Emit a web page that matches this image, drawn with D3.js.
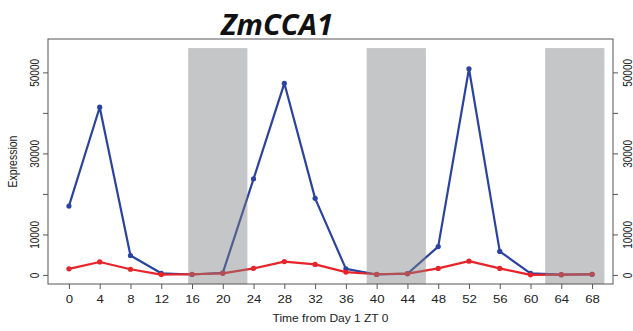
<!DOCTYPE html>
<html>
<head>
<meta charset="utf-8">
<script src="https://cdn.jsdelivr.net/npm/d3@7"></script>
<style>
  html, body { margin: 0; padding: 0; background: #fff; }
  svg { display: block; }
  text { font-family: "Liberation Sans", Arial, sans-serif; fill: #222; }
</style>
</head>
<body>
<svg id="chart" width="633" height="331"></svg>
<script>
// Sampling times (hours from Day 1 ZT 0)
const hours = [0, 4, 8, 12, 16, 20, 24, 28, 32, 36, 40, 44, 48, 52, 56, 60, 64, 68];
// Expression of the two series at each sampling time
const blueSeries = [17000, 41400, 4800, 400, 100, 500, 23700, 47300, 18900, 1500, 100, 300, 7000, 50900, 5800, 400, 50, 150];
const redSeries  = [1500, 3200, 1400, 80, 170, 400, 1600, 3300, 2600, 700, 170, 330, 1600, 3400, 1600, 20, 50, 170];
// Dark periods (shaded)
const nightStart = [15.5, 38.7, 61.9];
const nightEnd   = [23.2, 46.4, 69.6];
const nightTop   = 56000;
// Axis ticks
const xTicks = [0, 4, 8, 12, 16, 20, 24, 28, 32, 36, 40, 44, 48, 52, 56, 60, 64, 68];
const yTicks = [0, 10000, 20000, 30000, 40000, 50000];
const yTickLabels = ["0", "10000", "", "30000", "", "50000"];

const title = "ZmCCA1";
const xTitle = "Time from Day 1 ZT 0";
const yTitle = "Expression";

const svg = d3.select("#chart");
const box = { left: 48, right: 613, top: 39, bottom: 284 };

// Limits padded by 4% on each side
const xlim = [0, 68], ylim = [0, 56000];
const xPad = (xlim[1] - xlim[0]) * 0.04, yPad = (ylim[1] - ylim[0]) * 0.04;
const x = d3.scaleLinear().domain([xlim[0] - xPad, xlim[1] + xPad]).range([box.left, box.right]);
const y = d3.scaleLinear().domain([ylim[0] - yPad, ylim[1] + yPad]).range([box.bottom, box.top]);

const axisColor = "#555";
const sx = 1.2; // text is drawn a little wide

// Lines and points
const line = d3.line().x((d, i) => x(hours[i])).y(d => y(d));
const seriesList = [
  { values: blueSeries, color: "#2b43a0" },
  { values: redSeries,  color: "#e8242b" }
];
const marks = svg.append("g");
seriesList.forEach(s => {
  marks.append("path")
    .datum(s.values)
    .attr("d", line)
    .attr("fill", "none")
    .attr("stroke", s.color)
    .attr("stroke-width", 2.2)
    .attr("stroke-linejoin", "round");
  marks.selectAll(null)
    .data(s.values)
    .enter().append("circle")
    .attr("cx", (d, i) => x(hours[i]))
    .attr("cy", d => y(d))
    .attr("r", 2.6)
    .attr("fill", s.color);
});

// Shaded dark periods laid over the traces
svg.append("g").selectAll("rect")
  .data(nightStart)
  .enter().append("rect")
  .attr("x", (d) => x(d))
  .attr("width", (d, i) => x(nightEnd[i]) - x(d))
  .attr("y", y(nightTop))
  .attr("height", box.bottom - y(nightTop))
  .attr("fill", "#7f8083")
  .attr("fill-opacity", 0.45);

// Frame
svg.append("rect")
  .attr("x", box.left).attr("y", box.top)
  .attr("width", box.right - box.left).attr("height", box.bottom - box.top)
  .attr("fill", "none").attr("stroke", axisColor).attr("stroke-width", 1);

// Bottom axis
const xAxis = svg.append("g")
  .attr("transform", `translate(0,${box.bottom})`)
  .call(d3.axisBottom(x).tickValues(xTicks).tickSize(5).tickSizeOuter(0).tickFormat(d3.format("d")));
xAxis.select(".domain").remove();
xAxis.selectAll(".tick line").attr("stroke", axisColor);
xAxis.selectAll(".tick text")
  .attr("y", 0).attr("dy", null)
  .attr("transform", `translate(0,19) scale(${sx},1)`)
  .style("font-size", "11px")
  .style("font-family", "'Liberation Sans', Arial, sans-serif")
  .attr("fill", "#222");

// Left and right axes with rotated labels
function yAxis(gen, pos, labelX) {
  const g = svg.append("g")
    .attr("transform", `translate(${pos},0)`)
    .call(gen(y).tickValues(yTicks).tickSize(5).tickSizeOuter(0).tickFormat((d, i) => yTickLabels[i]));
  g.select(".domain").remove();
  g.selectAll(".tick line").attr("stroke", axisColor);
  g.selectAll(".tick text")
    .attr("x", null).attr("dy", null)
    .attr("text-anchor", "middle")
    .attr("transform", `translate(${labelX},0) scale(${sx},1) rotate(-90)`)
    .style("font-size", "10px")
    .style("font-family", "'Liberation Sans', Arial, sans-serif")
    .attr("fill", "#222");
}
yAxis(d3.axisLeft, box.left, -9);
yAxis(d3.axisRight, box.right, 18.5);

// Axis titles
svg.append("text")
  .attr("transform", `translate(${(box.left + box.right) / 2},322) scale(${sx},1)`)
  .attr("text-anchor", "middle")
  .style("font-size", "10px")
  .text(xTitle);
svg.append("text")
  .attr("transform", `translate(17,${(box.top + box.bottom) / 2}) scale(${sx},1) rotate(-90)`)
  .attr("text-anchor", "middle")
  .style("font-size", "10.5px")
  .text(yTitle);

// Title
svg.append("text")
  .attr("x", 277).attr("y", 35)
  .attr("text-anchor", "middle")
  .attr("textLength", 112)
  .attr("lengthAdjust", "spacingAndGlyphs")
  .style("font-family", "'Open Sans', sans-serif")
  .style("font-weight", "bold")
  .style("font-style", "italic")
  .style("font-size", "29px")
  .style("fill", "#111")
  .text(title);
</script>
</body>
</html>
